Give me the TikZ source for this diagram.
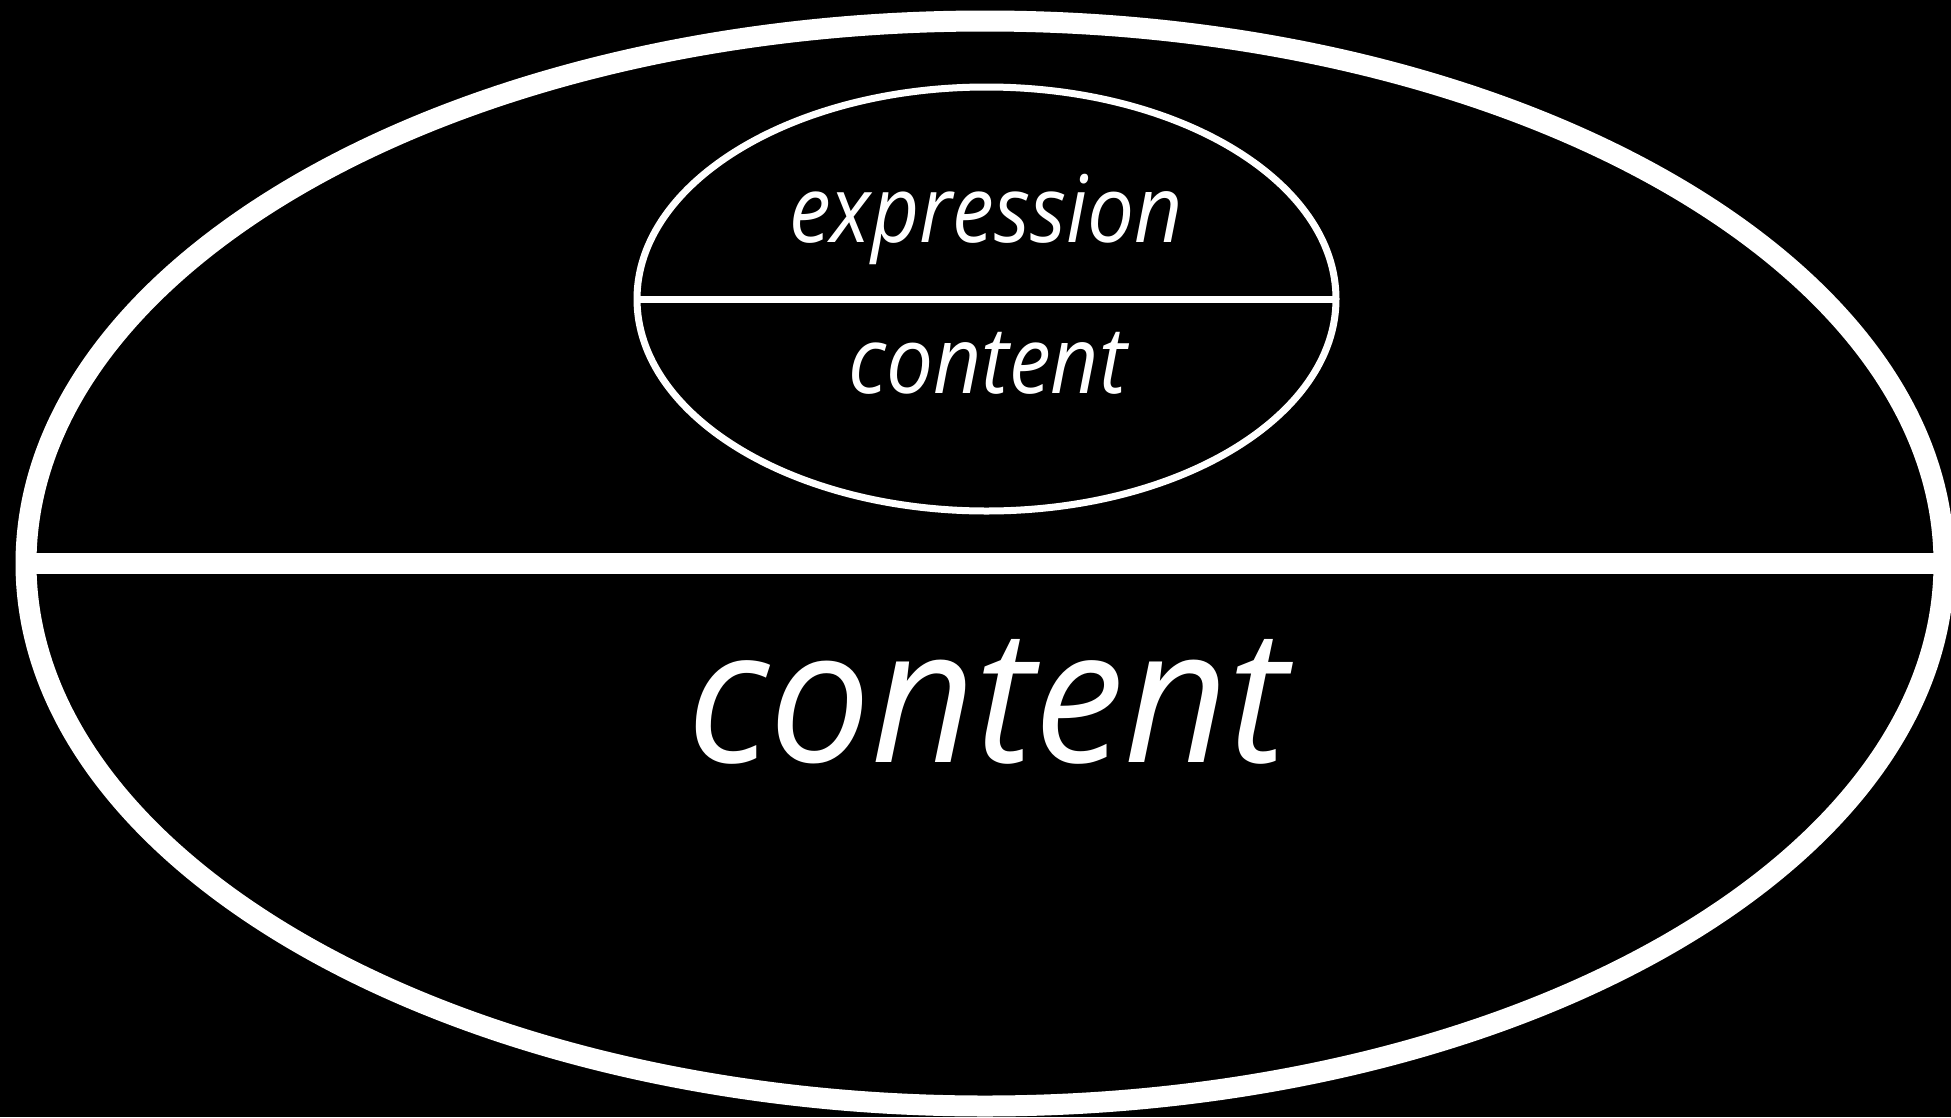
\documentclass[tikz,border=0pt]{standalone}
\usepackage{fontspec}
\setmainfont{Open Sans}
\newfontfamily\smallfam[FakeStretch=0.9]{Open Sans}
\newfontfamily\bigfam[FakeStretch=0.965]{Open Sans}
\usetikzlibrary{shapes.geometric}
\begin{document}
\begin{tikzpicture}[x=1pt,y=-1pt,
  oval/.style={draw=white, ellipse, inner sep=0pt, outer sep=0pt},
  lbl/.style={text=white, anchor=base, inner sep=0pt}]
\useasboundingbox (0,0) rectangle (1951,1117);
\clip (0,0) rectangle (1951,1117);
\fill[black] (0,0) rectangle (1951,1117);
\node[oval, line width=21pt, minimum width=1918pt, minimum height=1085pt] (big) at (985,563.5) {};
\draw[white, line width=21pt] (big.west) -- (big.east);
\node[oval, line width=7pt, minimum width=699pt, minimum height=424pt] (small) at (986.5,299) {};
\draw[white, line width=7pt] (small.west) -- (small.east);
\node[lbl, font=\smallfam\itshape\fontsize{93}{100}\selectfont] (expr) at (986,242) {expression};
\node[lbl, font=\smallfam\itshape\fontsize{93}{100}\selectfont] (cont1) at (987.5,393) {content};
\node[lbl, font=\bigfam\itshape\fontsize{187}{200}\selectfont] (cont2) at (988,762) {content};
\end{tikzpicture}
\end{document}
